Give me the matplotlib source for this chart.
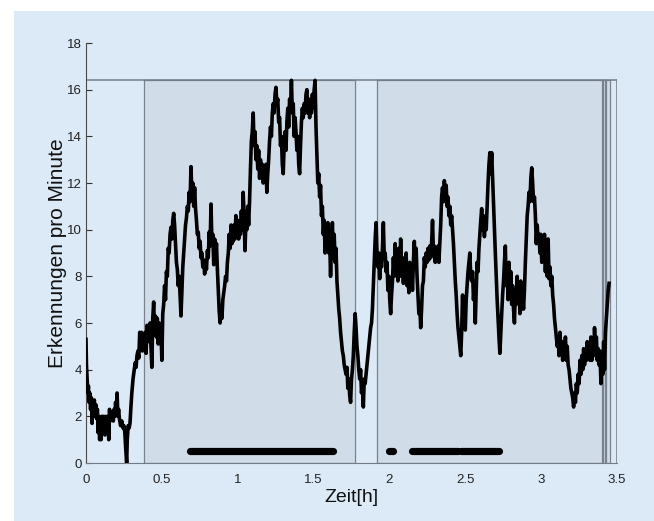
import matplotlib
matplotlib.use("Agg")
import matplotlib.pyplot as plt
from matplotlib.patches import Rectangle

plt.rcParams['font.family'] = ['Liberation Sans', 'DejaVu Sans']

# ------------------------
# Daten
# ------------------------
zeit = [
    0.000, 0.003, 0.008, 0.012, 0.016, 0.020, 0.025, 0.030, 0.035, 0.040,
    0.045, 0.050, 0.055, 0.060, 0.065, 0.070, 0.075, 0.080, 0.085, 0.090,
    0.095, 0.100, 0.105, 0.110, 0.115, 0.120, 0.125, 0.130, 0.135, 0.140,
    0.145, 0.150, 0.155, 0.160, 0.165, 0.170, 0.175, 0.180, 0.185, 0.190,
    0.195, 0.200, 0.205, 0.210, 0.215, 0.220, 0.228, 0.236, 0.244, 0.250,
    0.256, 0.262, 0.268, 0.272, 0.278, 0.284, 0.290, 0.296, 0.302, 0.310,
    0.318, 0.324, 0.330, 0.336, 0.342, 0.348, 0.354, 0.360, 0.366, 0.372,
    0.378, 0.384, 0.390, 0.396, 0.402, 0.410, 0.416, 0.422, 0.428, 0.434,
    0.440, 0.446, 0.452, 0.458, 0.464, 0.470, 0.476, 0.482, 0.488, 0.494,
    0.500, 0.506, 0.512, 0.518, 0.524, 0.530, 0.536, 0.542, 0.548, 0.554,
    0.560, 0.566, 0.572, 0.578, 0.584, 0.590, 0.596, 0.602, 0.608, 0.614,
    0.620, 0.626, 0.632, 0.638, 0.644, 0.650, 0.656, 0.662, 0.668, 0.674,
    0.680, 0.686, 0.692, 0.698, 0.704, 0.710, 0.716, 0.722, 0.728, 0.734,
    0.740, 0.746, 0.752, 0.758, 0.764, 0.770, 0.776, 0.782, 0.788, 0.794,
    0.800, 0.806, 0.812, 0.818, 0.824, 0.830, 0.836, 0.842, 0.848, 0.854,
    0.860, 0.866, 0.872, 0.878, 0.884, 0.890, 0.896, 0.902, 0.908, 0.914,
    0.920, 0.926, 0.932, 0.938, 0.944, 0.950, 0.956, 0.962, 0.968, 0.970,
    0.976, 0.982, 0.988, 0.994, 1.000, 1.006, 1.012, 1.018, 1.024, 1.030,
    1.036, 1.042, 1.048, 1.054, 1.060, 1.066, 1.072, 1.078, 1.084, 1.090,
    1.096, 1.102, 1.108, 1.114, 1.120, 1.126, 1.132, 1.138, 1.144, 1.150,
    1.156, 1.162, 1.168, 1.174, 1.180, 1.186, 1.192, 1.198, 1.204, 1.210,
    1.216, 1.222, 1.228, 1.234, 1.240, 1.246, 1.252, 1.258, 1.264, 1.270,
    1.276, 1.282, 1.288, 1.294, 1.300, 1.306, 1.312, 1.318, 1.324, 1.330,
    1.336, 1.342, 1.348, 1.354, 1.360, 1.366, 1.372, 1.378, 1.384, 1.390,
    1.396, 1.402, 1.408, 1.414, 1.420, 1.426, 1.432, 1.438, 1.444, 1.450,
    1.456, 1.462, 1.468, 1.474, 1.480, 1.486, 1.492, 1.498, 1.504, 1.510,
    1.516, 1.522, 1.528, 1.534, 1.540, 1.546, 1.552, 1.558, 1.564, 1.570,
    1.576, 1.582, 1.588, 1.594, 1.600, 1.606, 1.612, 1.618, 1.624, 1.630,
    1.636, 1.642, 1.648, 1.654, 1.660, 1.666, 1.672, 1.678, 1.684, 1.690,
    1.696, 1.702, 1.708, 1.714, 1.720, 1.726, 1.732, 1.738, 1.744, 1.750,
    1.756, 1.762, 1.768, 1.774, 1.780, 1.786, 1.792, 1.798, 1.804, 1.810,
    1.816, 1.822, 1.828, 1.834, 1.840, 1.846, 1.852, 1.858, 1.864, 1.870,
    1.876, 1.882, 1.888, 1.894, 1.900, 1.906, 1.912, 1.918, 1.924, 1.930,
    1.936, 1.942, 1.948, 1.954, 1.960, 1.966, 1.972, 1.978, 1.984, 1.990,
    1.996, 2.002, 2.008, 2.014, 2.020, 2.026, 2.032, 2.038, 2.044, 2.050,
    2.056, 2.062, 2.068, 2.074, 2.080, 2.086, 2.092, 2.098, 2.104, 2.110,
    2.116, 2.122, 2.128, 2.134, 2.140, 2.146, 2.152, 2.158, 2.164, 2.170,
    2.176, 2.182, 2.188, 2.194, 2.200, 2.206, 2.212, 2.218, 2.224, 2.230,
    2.236, 2.242, 2.248, 2.254, 2.260, 2.266, 2.272, 2.278, 2.284, 2.290,
    2.296, 2.302, 2.308, 2.314, 2.320, 2.326, 2.332, 2.338, 2.344, 2.350,
    2.356, 2.362, 2.368, 2.374, 2.380, 2.386, 2.392, 2.398, 2.404, 2.410,
    2.416, 2.422, 2.428, 2.434, 2.440, 2.446, 2.452, 2.458, 2.464, 2.470,
    2.476, 2.482, 2.488, 2.494, 2.500, 2.506, 2.512, 2.518, 2.524, 2.530,
    2.536, 2.542, 2.548, 2.554, 2.560, 2.566, 2.572, 2.578, 2.584, 2.590,
    2.596, 2.602, 2.608, 2.614, 2.620, 2.626, 2.632, 2.638, 2.644, 2.650,
    2.656, 2.662, 2.668, 2.674, 2.680, 2.686, 2.692, 2.698, 2.704, 2.710,
    2.716, 2.722, 2.728, 2.734, 2.740, 2.746, 2.752, 2.758, 2.764, 2.770,
    2.776, 2.782, 2.788, 2.794, 2.800, 2.806, 2.812, 2.818, 2.824, 2.830,
    2.836, 2.842, 2.848, 2.854, 2.860, 2.866, 2.872, 2.878, 2.884, 2.890,
    2.896, 2.902, 2.908, 2.914, 2.920, 2.926, 2.932, 2.938, 2.944, 2.950,
    2.956, 2.962, 2.968, 2.974, 2.980, 2.986, 2.992, 2.998, 3.004, 3.010,
    3.016, 3.022, 3.028, 3.034, 3.040, 3.046, 3.052, 3.058, 3.064, 3.070,
    3.076, 3.082, 3.088, 3.094, 3.100, 3.106, 3.112, 3.118, 3.124, 3.130,
    3.136, 3.142, 3.148, 3.154, 3.160, 3.166, 3.172, 3.178, 3.184, 3.190,
    3.196, 3.202, 3.208, 3.214, 3.220, 3.226, 3.232, 3.238, 3.244, 3.250,
    3.256, 3.262, 3.268, 3.274, 3.280, 3.286, 3.292, 3.298, 3.304, 3.310,
    3.316, 3.322, 3.328, 3.334, 3.340, 3.346, 3.352, 3.358, 3.364, 3.370,
    3.376, 3.382, 3.388, 3.394, 3.400, 3.406, 3.412, 3.418, 3.424, 3.430,
    3.436, 3.442, 3.448,
]
erkennungen = [
    5.3, 4.2, 3.5, 3.0, 3.3, 2.6, 3.0, 2.3, 2.8, 1.7,
    2.6, 2.4, 2.7, 2.0, 2.5, 1.9, 2.3, 1.3, 2.0, 1.0,
    1.9, 1.0, 2.0, 1.6, 2.0, 1.9, 1.2, 2.0, 1.6, 1.7,
    2.0, 1.0, 2.3, 1.8, 2.2, 1.9, 2.1, 1.8, 2.3, 2.0,
    2.6, 2.2, 3.0, 2.0, 2.3, 1.9, 1.6, 1.8, 1.5, 1.6,
    1.3, 0.6, 0.0, 1.0, 1.6, 1.5, 1.7, 2.4, 3.0, 3.6,
    4.0, 4.3, 4.1, 4.6, 4.8, 4.5, 5.6, 5.0, 5.6, 4.8,
    5.4, 5.0, 5.6, 4.7, 5.9, 5.8, 5.2, 6.0, 5.0, 4.1,
    6.2, 6.9, 5.6, 6.3, 5.4, 6.2, 5.1, 6.0, 5.3, 5.8,
    4.4, 6.4, 6.8, 7.6, 7.0, 8.2, 8.0, 9.2, 9.0, 9.8,
    10.1, 9.6, 10.4, 10.7, 10.2, 9.4, 8.6, 8.3, 7.6, 8.0,
    7.2, 6.3, 7.4, 8.4, 9.0, 9.6, 10.2, 10.5, 11.0, 10.8,
    11.6, 11.2, 12.7, 11.5, 12.0, 11.0, 11.8, 10.9, 10.4, 9.8,
    9.9, 9.2, 9.5, 8.8, 9.0, 8.4, 8.7, 8.1, 8.6, 8.3,
    9.1, 8.8, 9.9, 9.3, 11.1, 9.4, 9.8, 8.5, 9.6, 8.9,
    9.4, 8.3, 7.4, 6.5, 6.0, 6.6, 6.2, 7.0, 7.3, 7.6,
    8.0, 7.8, 8.6, 9.0, 9.8, 9.2, 10.2, 9.4, 10.0, 9.5,
    10.2, 9.6, 10.6, 9.8, 10.4, 9.6, 10.2, 9.8, 10.8, 10.0,
    11.6, 10.6, 9.1, 10.4, 10.0, 11.0, 10.2, 11.2, 12.6, 13.8,
    14.2, 15.0, 13.6, 14.2, 13.0, 13.6, 12.6, 13.4, 12.2, 13.0,
    12.4, 12.8, 12.0, 12.6, 12.2, 12.8, 11.6, 12.4, 13.0, 13.8,
    14.4, 14.0, 15.0, 15.4, 15.0, 15.8, 16.1, 15.4, 15.6, 14.6,
    14.8, 13.6, 14.0, 12.8, 12.4, 13.6, 14.2, 13.4, 14.6, 15.2,
    14.4, 15.6, 15.2, 16.4, 15.0, 15.4, 14.0, 14.8, 14.2, 13.4,
    14.0, 12.8, 12.4, 13.6, 14.6, 15.2, 14.8, 15.4, 15.0, 15.8,
    16.0, 15.0, 15.6, 14.8, 15.4, 15.0, 15.8, 15.2, 16.0, 16.4,
    14.4, 13.2, 12.0, 12.4, 11.4, 11.9, 10.6, 11.0, 9.8, 10.4,
    9.0, 10.0, 9.2, 10.3, 9.0, 9.6, 8.0, 9.4, 10.3, 8.8,
    9.8, 8.6, 9.2, 7.8, 7.2, 6.6, 6.2, 5.6, 5.2, 4.8,
    4.6, 4.2, 4.0, 3.8, 4.1, 3.2, 3.6, 2.9, 2.6, 3.6,
    4.0, 4.6, 5.6, 6.4, 5.8, 5.0, 4.6, 4.0, 3.6, 4.0,
    3.0, 3.4, 2.4, 3.6, 3.4, 3.8, 4.2, 4.6, 5.0, 5.4,
    5.8, 6.0, 6.6, 7.6, 8.6, 9.6, 10.3, 9.0, 8.4, 9.0,
    7.9, 8.8, 8.4, 9.2, 10.3, 8.8, 9.0, 8.2, 8.6, 7.4,
    8.0, 7.0, 6.4, 7.2, 7.8, 8.8, 8.0, 9.4, 8.4, 8.9,
    7.8, 9.2, 8.0, 9.6, 8.2, 8.8, 7.7, 8.6, 8.0, 9.0,
    7.6, 8.4, 7.3, 8.6, 7.8, 8.2, 7.4, 8.6, 9.5, 8.4,
    9.2, 8.0, 7.2, 6.4, 6.8, 5.8, 6.6, 7.6, 7.8, 8.8,
    8.4, 9.0, 8.6, 9.2, 8.7, 9.3, 8.8, 9.4, 10.4, 9.0,
    9.3, 8.6, 9.2, 8.8, 9.3, 8.6, 9.4, 10.2, 11.4, 11.8,
    11.2, 12.1, 11.4, 11.9, 11.0, 11.4, 10.6, 11.0, 10.2, 10.6,
    10.0, 9.4, 8.6, 7.8, 7.2, 6.4, 5.8, 5.4, 5.0, 4.6,
    5.6, 7.2, 6.0, 6.6, 5.7, 7.0, 7.6, 8.2, 8.6, 9.0,
    8.0, 7.8, 8.2, 7.0, 7.6, 6.0, 7.4, 8.6, 8.2, 9.2,
    9.8, 10.4, 10.9, 10.0, 10.6, 9.7, 10.4, 10.0, 11.0, 12.0,
    12.8, 13.3, 12.4, 13.3, 12.2, 11.0, 10.0, 9.0, 8.0, 7.0,
    6.2, 5.4, 4.7, 5.6, 6.4, 7.2, 7.8, 8.6, 9.3, 7.6,
    8.4, 7.0, 8.6, 7.4, 8.2, 6.8, 7.6, 6.6, 6.0, 7.4,
    6.8, 8.0, 7.0, 7.6, 6.4, 7.8, 6.6, 7.2, 6.6, 7.4,
    8.6, 9.6, 10.6, 11.0, 11.6, 11.2, 12.2, 12.65, 12.0, 11.2,
    11.4, 10.6, 9.4, 10.2, 9.6, 9.8, 9.0, 9.8, 8.6, 9.6,
    8.8, 9.8, 8.2, 9.4, 8.0, 9.6, 7.9, 8.4, 7.6, 8.0,
    7.2, 6.8, 6.2, 5.8, 5.4, 5.0, 5.4, 4.6, 5.6, 4.8,
    5.2, 4.4, 5.0, 4.6, 5.4, 4.4, 5.0, 4.2, 4.0, 3.6,
    3.2, 3.0, 2.8, 2.4, 3.0, 2.6, 3.4, 3.0, 3.8, 3.4,
    4.4, 3.8, 4.6, 4.0, 4.9, 4.2, 4.8, 4.4, 5.2, 4.6,
    5.0, 4.4, 5.4, 4.4, 5.0, 4.6, 5.8, 4.8, 5.4, 4.4,
    4.9, 4.2, 4.8, 3.4, 4.6, 3.8, 5.2, 4.0, 5.6, 6.2,
    6.8, 7.4, 7.7,
]

# Phasen (schattierte Bereiche) und Rahmen
phase_start = [0.38, 1.915, 3.405, 3.425]
phase_end = [1.775, 3.400, 3.420, 3.455]
rahmen_oben = 16.4
rahmen_rechts = 3.5

# Markierte Abschnitte (dicke Balken unten)
balken_start = [0.687, 1.997, 2.146, 2.470]
balken_ende = [1.630, 2.023, 2.450, 2.724]
balken_hoehe = 0.5

x_ticks = [0, 0.5, 1, 1.5, 2, 2.5, 3, 3.5]
x_labels = ['0', '0.5', '1', '1.5', '2', '2.5', '3', '3.5']
y_ticks = [0, 2, 4, 6, 8, 10, 12, 14, 16, 18]

# ------------------------
# Plot
# ------------------------
bg = '#dce9f6'
fig = plt.figure(figsize=(6.54, 5.21), dpi=100, facecolor='white')
fig.patches.append(Rectangle((14 / 654, 0), 1, 1 - 11 / 521, transform=fig.transFigure,
                             facecolor=bg, edgecolor='none', zorder=-10))

ax = fig.add_axes([86 / 654, 1 - 463 / 521, (617 - 86) / 654, (463 - 43) / 521])
ax.set_facecolor(bg)

for x0, x1 in zip(phase_start, phase_end):
    ax.add_patch(Rectangle((x0, 0), x1 - x0, rahmen_oben, facecolor='#d0dde9',
                           edgecolor='#7a838d', linewidth=0.9, zorder=1))

ax.plot([0, rahmen_rechts], [rahmen_oben, rahmen_oben], color='#737c86', lw=1.1, zorder=1)
ax.plot([rahmen_rechts, rahmen_rechts], [0, rahmen_oben], color='#737c86', lw=1.1, zorder=1)

ax.plot(zeit, erkennungen, color='black', lw=2.6, zorder=3)

for x0, x1 in zip(balken_start, balken_ende):
    ax.plot([x0, x1], [balken_hoehe, balken_hoehe], color='black', lw=5.2,
            solid_capstyle='round', zorder=4)

ax.set_xlim(0, 3.5)
ax.set_ylim(0, 18)
ax.set_xticks(x_ticks)
ax.set_xticklabels(x_labels)
ax.set_yticks(y_ticks)

ax.spines['top'].set_visible(False)
ax.spines['right'].set_visible(False)
ax.spines['left'].set_color('#4a4a4a')
ax.spines['bottom'].set_color('#737c86')
ax.tick_params(axis='y', direction='in', length=4, width=0.8, pad=3,
               labelsize=9.5, colors='#333333', labelcolor='#222222')
ax.tick_params(axis='x', length=0, pad=8, labelsize=9.5, labelcolor='#222222')

ax.set_xlabel('Zeit[h]', fontsize=14, labelpad=2, color='#111111')
ax.set_ylabel('Erkennungen pro Minute', fontsize=15, labelpad=0, color='#111111')

plt.savefig('out.png', dpi=100, facecolor=fig.get_facecolor())
